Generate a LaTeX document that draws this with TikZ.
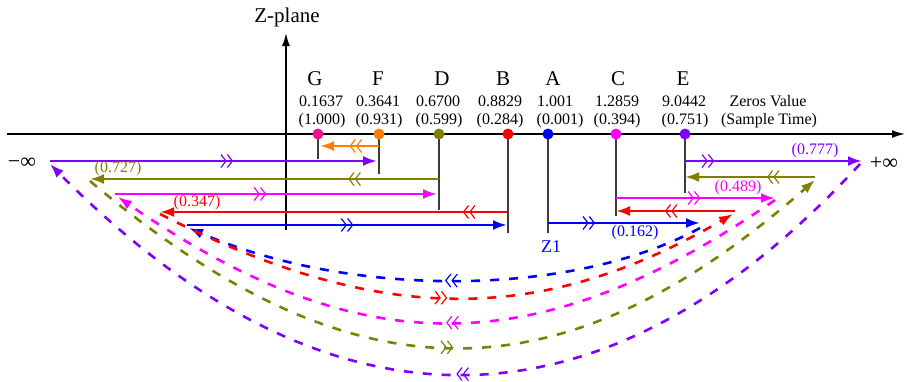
\documentclass[tikz,border=0pt]{standalone}
\usepackage{fontspec}
\setmainfont{Liberation Serif}
\usetikzlibrary{arrows.meta,decorations.markings}
\definecolor{cviolet}{RGB}{128,0,255}
\definecolor{colive}{RGB}{128,128,0}
\definecolor{cmag}{RGB}{255,0,255}
\definecolor{cred}{RGB}{255,0,0}
\definecolor{cblue}{RGB}{0,0,255}
\definecolor{corange}{RGB}{255,128,0}
\definecolor{cpink}{RGB}{240,20,140}
\definecolor{cgray}{RGB}{60,60,60}
\begin{document}
\begin{tikzpicture}[x=1pt,y=-1pt,
  lbl/.style={font=\fontsize{21}{24}\selectfont,inner sep=0pt},
  num/.style={font=\fontsize{16}{18}\selectfont,inner sep=0pt},
  inf/.style={font=\fontsize{22}{24}\selectfont,inner sep=0pt},
  dot/.style={circle,inner sep=0pt,minimum size=11pt},
  stem/.style={cgray,line width=1.3pt},
  flow/.style={line width=2.6pt,-{Latex[length=14pt,width=10pt]}},
  mid/.style={postaction={decorate},decoration={markings,mark=at position #1 with {\arrow{Straight Barb[length=5pt,width=13pt,line width=1.2pt]Straight Barb[length=5pt,width=13pt,line width=1.2pt]}}}},
  ret/.style={line width=2.6pt,dash pattern=on 9pt off 10pt,-{Latex[length=14pt,width=10pt]}},
]
\useasboundingbox (0,0) rectangle (907,381);
% axes
\coordinate (xl) at (7,134);
\coordinate (xr) at (905,134);
\coordinate (yb) at (286,230);
\coordinate (yt) at (286,33);
\draw[line width=1.6pt,-{Latex[length=13pt,width=8pt]}] (xl) -- (xr);
\draw[line width=1.6pt,-{Latex[length=13pt,width=8pt]}] (yb) -- (yt);
\node[lbl] (zp) at (287,17) {Z-plane};
% stems
\coordinate (G) at (318,134); \coordinate (Gs) at (318,159);
\coordinate (F) at (379,134); \coordinate (Fs) at (379,174);
\coordinate (D) at (439,134); \coordinate (Ds) at (439,210);
\coordinate (B) at (508,134); \coordinate (Bs) at (508,233);
\coordinate (A) at (548,134); \coordinate (As) at (548,233);
\coordinate (C) at (616,134); \coordinate (Cs) at (616,216);
\coordinate (E) at (685,134); \coordinate (Es) at (685,193);
\foreach \p in {G,F,D,B,A,C,E} \draw[stem] (\p) -- (\p s);
% dots
\node[dot,fill=cpink] (Gd) at (G) {};
\node[dot,fill=corange] (Fd) at (F) {};
\node[dot,fill=colive] (Dd) at (D) {};
\node[dot,fill=cred] (Bd) at (B) {};
\node[dot,fill=cblue] (Ad) at (A) {};
\node[dot,fill=cmag] (Cd) at (C) {};
\node[dot,fill=cviolet] (Ed) at (E) {};
% letters
\node[lbl] (Gl) at (315,79) {G};
\node[lbl] (Fl) at (378,79) {F};
\node[lbl] (Dl) at (442,79) {D};
\node[lbl] (Bl) at (503,79) {B};
\node[lbl] (Al) at (553,79) {A};
\node[lbl] (Cl) at (618,79) {C};
\node[lbl] (El) at (683,79) {E};
% values
\node[num] (Gv) at (321,101) {0.1637};
\node[num] (Fv) at (378,101) {0.3641};
\node[num] (Dv) at (438,101) {0.6700};
\node[num] (Bv) at (500,101) {0.8829};
\node[num] (Av) at (555,101) {1.001};
\node[num] (Cv) at (617,101) {1.2859};
\node[num] (Ev) at (684,101) {9.0442};
\node[num] (zv) at (768,101) {Zeros Value};
\node[num] (Gt) at (322,121) {(1.000)};
\node[num] (Ft) at (379,121) {(0.931)};
\node[num] (Dt) at (439,121) {(0.599)};
\node[num] (Bt) at (500,121) {(0.284)};
\node[num] (At) at (560,121) {(0.001)};
\node[num] (Ct) at (617,121) {(0.394)};
\node[num] (Et) at (685,121) {(0.751)};
\node[num] (st) at (769,121) {(Sample Time)};
% infinities
\node[inf] (minf) at (22,163) {−∞};
\node[inf] (pinf) at (884,163) {+∞};
% end points of flows
\coordinate (pl) at (50,161);   \coordinate (pr) at (862,161);
\coordinate (ol) at (90,179);   \coordinate (or) at (815,177);
\coordinate (ml) at (115,194);  \coordinate (mr) at (775,198);
\coordinate (rl) at (160,212);  \coordinate (rr) at (735,211);
\coordinate (bl) at (187,225);  \coordinate (br) at (700,223);
% solid flows
\draw[flow,corange,line width=2.2pt,mid=0.5] (379,146) -- (320,146);
\draw[flow,cviolet,mid=0.56] (pl) -- (377,161);
\draw[flow,cviolet,mid=0.165] (685,161) -- (pr);
\draw[flow,colive,mid=0.26] (439,179) -- (ol);
\draw[flow,colive,mid=0.37] (or) -- (685,177);
\draw[flow,cmag,mid=0.47] (ml) -- (437,194);
\draw[flow,cmag,mid=0.53] (616,198) -- (mr);
\draw[flow,cred,mid=0.13] (508,212) -- (rl);
\draw[flow,cred,mid=0.59] (rr) -- (616,211);
\draw[flow,cblue,mid=0.52] (bl) -- (507,225);
\draw[flow,cblue,mid=0.31] (548,223) -- (br);
% return paths
\draw[ret,cblue,mid=0.5] (700,228) .. controls (571,298) and (350,298) .. (189,228);
\draw[ret,cred,mid=0.5] (160,214) .. controls (380,326) and (540,326) .. (733,214);
\draw[ret,cmag,mid=0.5] (775,200) .. controls (537,364) and (360,364) .. (118,197);
\draw[ret,colive,mid=0.5] (90,181) .. controls (353,403) and (560,403) .. (815,180);
\draw[ret,cviolet,mid=0.5] (860,164) .. controls (602,444) and (327,444) .. (50,164);
% flow labels
\node[num,text=colive] (l727) at (118,169) {(0.727)};
\node[num,text=cred] (l347) at (197,203) {(0.347)};
\node[num,text=cviolet] (l777) at (815,151) {(0.777)};
\node[num,text=cmag] (l489) at (738,188) {(0.489)};
\node[num,text=cblue] (l162) at (635,233) {(0.162)};
\node[num,text=cblue,font=\fontsize{18}{20}\selectfont] (z1) at (551,247) {Z1};
\end{tikzpicture}
\end{document}
